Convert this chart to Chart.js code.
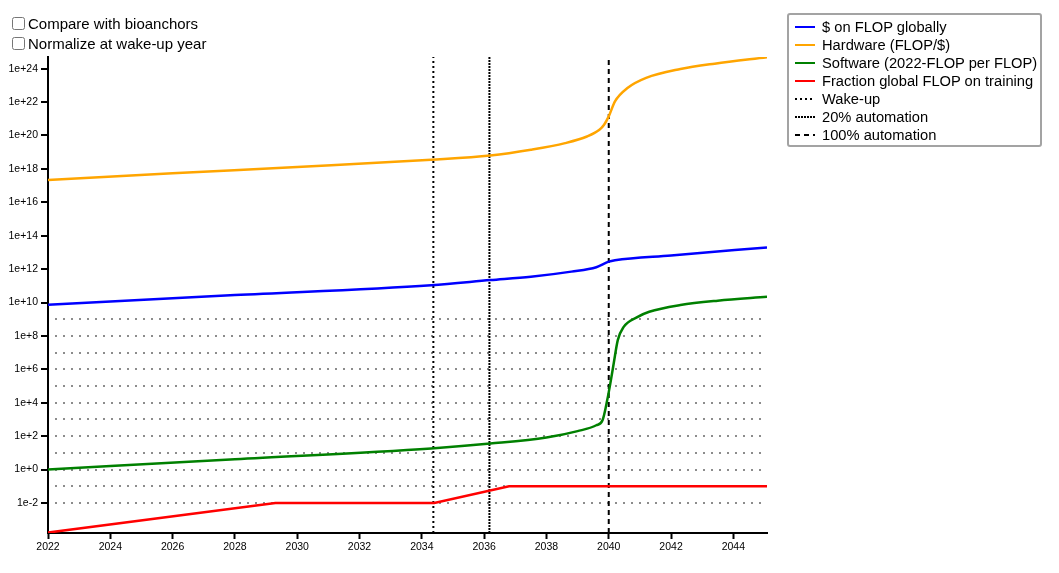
<!DOCTYPE html>
<html>
<head>
<meta charset="utf-8">
<script src="https://cdn.jsdelivr.net/npm/chart.js@4"></script>
<style>
  body { margin: 0; font-family: "Liberation Sans", Arial, sans-serif; background: #fff; }
  #wrap { position: relative; width: 1059px; height: 573px; }
  #myChart { position: absolute; left: 0; top: 0; }
  .opt { position: absolute; left: 12px; display: flex; align-items: center; height: 19px; font-size: 15px; color: #000; }
  .opt input { margin: 0 3px 0 0; width: 13px; height: 13px; }
  #legend { position: absolute; left: 787px; top: 13px; width: 251px; height: 130px;
            border: 2px solid #a3a3a3; border-radius: 3px; padding: 0; }
  .row { position: absolute; left: 6px; height: 18px; display: flex; align-items: center;
         font-size: 14.7px; white-space: nowrap; }
  .row canvas { margin-right: 7px; }
</style>
</head>
<body>
<div id="wrap">
  <canvas id="myChart" width="1059" height="573"></canvas>
  <label class="opt" style="top:14px"><input type="checkbox">Compare with bioanchors</label>
  <label class="opt" style="top:34px"><input type="checkbox">Normalize at wake-up year</label>
  <div id="legend"></div>
</div>
<script>
const ctx = document.getElementById('myChart').getContext('2d');

// series (year, value)
const spendYears = [2022, 2028, 2034.3, 2036.2, 2037.5, 2038.8, 2039.6, 2040.0, 2040.2, 2042, 2045.08];
const spendFlop  = [7.4e9, 2.8e10, 1.1e11, 2.2e11, 3.5e11, 7.1e11, 1.3e12, 2.8e12, 3.4e12, 6.6e12, 2.0e13];

const hardwareYears = [2022, 2026, 2030, 2034.3, 2036.2, 2037.5, 2038.6, 2039.3, 2039.7, 2039.85, 2040.0, 2040.2, 2040.6, 2041.2, 2042.3, 2043.4, 2045.08];
const hardware      = [2.2e17, 5.5e17, 1.3e18, 3.5e18, 6.3e18, 1.4e19, 3.5e19, 8.7e19, 2.2e20, 4.4e20, 1.4e21, 1.1e22, 6.9e22, 2.8e23, 9.5e23, 2.0e24, 4.8e24];

const softwareYears = [2022, 2028, 2034.3, 2036.2, 2038.0, 2039.0, 2039.6, 2039.8, 2039.95, 2040.05, 2040.16, 2040.29, 2040.48, 2040.9, 2041.3, 2042.3, 2043.5, 2045.08];
const software      = [1, 4.2, 18.6, 36, 83, 200, 450, 910, 1.4e4, 1.4e5, 2.3e6, 5.6e7, 3.5e8, 1.3e9, 2.8e9, 7.1e9, 1.3e10, 2.2e10];

const fractionYears = [2022, 2029.3, 2034.4, 2036.8, 2045.08];
const fraction      = [1.7e-4, 0.01, 0.01, 0.1, 0.1];

const wakeUpYear = 2034.37;
const auto20Year = 2036.17;
const auto100Year = 2040.0;

const yMin = 1.6e-4;
const yMax = 5e24;
const xMin = 2022;
const xMax = 2045.08;

// decades that get a tick (labels on even ones)
const decades = [];
for (let e = -2; e <= 24; e++) decades.push(e);

function pairs(xs, ys) {
    return xs.map((x, i) => ({x: x, y: ys[i]}));
}
function vline(year) {
    return [{x: year, y: yMin}, {x: year, y: yMax}];
}
function expOf(v) {
    return Math.round(Math.log10(v));
}

const curve = {fill: false, pointRadius: 0, borderWidth: 2.5, cubicInterpolationMode: 'monotone'};
const marker = {fill: false, pointRadius: 0, borderWidth: 2, borderColor: '#000', tension: 0};

const data = {
    datasets: [
        {...curve, label: '$ on FLOP globally', data: pairs(spendYears, spendFlop), borderColor: 'blue'},
        {...curve, label: 'Hardware (FLOP/$)', data: pairs(hardwareYears, hardware), borderColor: 'orange'},
        {...curve, label: 'Software (2022-FLOP per FLOP)', data: pairs(softwareYears, software), borderColor: 'green'},
        {...curve, label: 'Fraction global FLOP on training', data: pairs(fractionYears, fraction), borderColor: 'red', cubicInterpolationMode: 'default', tension: 0},
        {...marker, label: 'Wake-up', data: vline(wakeUpYear), borderDash: [2, 3]},
        {...marker, label: '20% automation', data: vline(auto20Year), borderDash: [2, 1]},
        {...marker, label: '100% automation', data: vline(auto100Year), borderDash: [5, 4]},
    ]
};

const tickFont = {size: 10.5, family: '"Liberation Sans", Arial, sans-serif'};

const config = {
    type: 'line',
    data: data,
    options: {
        responsive: false,
        animation: false,
        layout: {padding: {top: 57, right: 292, left: 0, bottom: 0}},
        plugins: {legend: {display: false}, tooltip: {enabled: false}},
        scales: {
            x: {
                type: 'linear',
                min: xMin,
                max: xMax,
                afterFit: s => { s.height = 40; },
                border: {color: '#000', width: 2},
                grid: {drawOnChartArea: false, tickLength: 6, tickWidth: 2, tickColor: '#000'},
                ticks: {
                    stepSize: 2,
                    includeBounds: false,
                    padding: 2,
                    color: '#000',
                    font: tickFont,
                    maxRotation: 0,
                    callback: v => String(v)
                }
            },
            y: {
                type: 'logarithmic',
                min: yMin,
                max: yMax,
                afterFit: s => { s.width = 48; },
                afterBuildTicks: axis => {
                    axis.ticks = decades.map(e => ({value: Math.pow(10, e)}));
                },
                border: {color: '#000', width: 2, dash: [2, 6], dashOffset: 2},
                grid: {
                    lineWidth: 2,
                    color: c => {
                        const e = expOf(c.tick.value);
                        return (e >= -2 && e <= 9) ? '#8c8c8c' : 'rgba(0,0,0,0)';
                    },
                    tickLength: 7,
                    tickWidth: 2,
                    tickBorderDash: [],
                    tickColor: c => expOf(c.tick.value) % 2 === 0 ? '#000' : 'rgba(0,0,0,0)'
                },
                ticks: {
                    autoSkip: false,
                    padding: 3,
                    color: '#000',
                    font: tickFont,
                    callback: function(value) {
                        const e = expOf(value);
                        if (e % 2 !== 0) return '';
                        return '1e' + (e >= 0 ? '+' + e : e);
                    }
                }
            }
        }
    }
};

const myChart = new Chart(ctx, config);

// html legend built from the datasets
const legendBox = document.getElementById('legend');
myChart.data.datasets.forEach((ds, i) => {
    const row = document.createElement('div');
    row.className = 'row';
    row.style.top = (3 + i * 18) + 'px';
    const sample = document.createElement('canvas');
    sample.width = 20;
    sample.height = 18;
    const sctx = sample.getContext('2d');
    sctx.strokeStyle = ds.borderColor;
    sctx.lineWidth = 2;
    sctx.setLineDash(ds.borderDash || []);
    sctx.beginPath();
    sctx.moveTo(0, 9);
    sctx.lineTo(20, 9);
    sctx.stroke();
    row.appendChild(sample);
    row.appendChild(document.createTextNode(ds.label));
    legendBox.appendChild(row);
});
</script>
</body>
</html>
